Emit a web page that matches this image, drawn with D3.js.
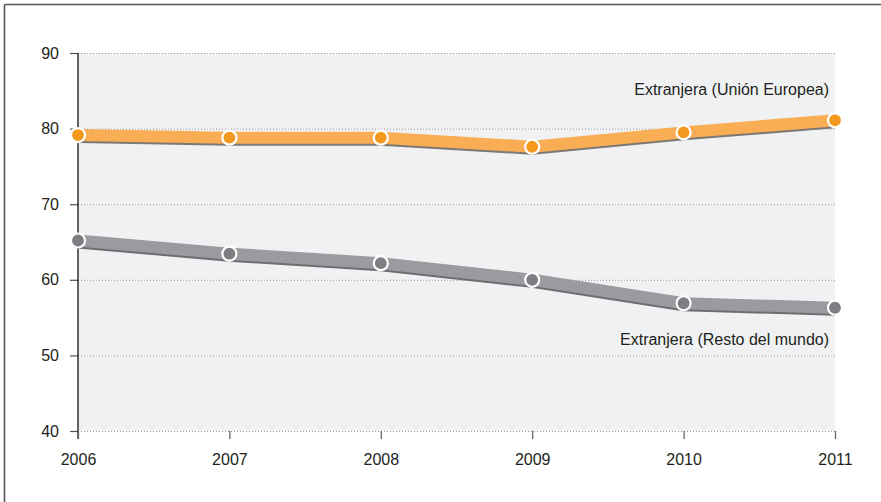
<!DOCTYPE html>
<html><head><meta charset="utf-8">
<script src="https://cdn.jsdelivr.net/npm/d3@7"></script>
<style>body{margin:0;background:#fff}svg{display:block}text{font-family:"Liberation Sans",Arial,sans-serif;fill:#231f20}</style>
</head><body><svg id="c" width="881" height="502"></svg>
<script>
const years = [2006, 2007, 2008, 2009, 2010, 2011];
const ueValues = [79.15, 78.8, 78.8, 77.6, 79.5, 81.1];
const restoValues = [65.2, 63.45, 62.2, 60.0, 56.9, 56.3];
const yTicks = [40, 50, 60, 70, 80, 90];
const seriesLabels = ["Extranjera (Unión Europea)", "Extranjera (Resto del mundo)"];

const svg = d3.select("#c");
const L = 78, R = 835, T = 53, B = 431;
const FS = 16;
const x = d3.scalePoint().domain(years).range([L, R]);
const y = d3.scaleLinear().domain([40, 90]).range([B, T]);

// frame
svg.append("line").attr("x1", 4.5).attr("x2", 881).attr("y1", 4.5).attr("y2", 4.5).attr("stroke", "#555").attr("stroke-width", 1.6);
svg.append("line").attr("x1", 4.5).attr("x2", 4.5).attr("y1", 4.5).attr("y2", 502).attr("stroke", "#555").attr("stroke-width", 1.6);

// plot bg
svg.append("rect").attr("x", L).attr("y", T).attr("width", R - L).attr("height", B - T).attr("fill", "#f0f1f3");

// grid
svg.append("g").selectAll("line").data(yTicks).join("line")
  .attr("x1", L).attr("x2", R).attr("y1", d => y(d) + 0.5).attr("y2", d => y(d) + 0.5)
  .attr("stroke", "#9a9a9a").attr("stroke-width", 1).attr("stroke-dasharray", "1,2");

// y axis
const ya = svg.append("g").attr("transform", `translate(${L},0)`)
  .call(d3.axisLeft(y).tickValues(yTicks).tickSize(8).tickPadding(11).tickFormat(d3.format("d")));
ya.select(".domain").remove();
ya.selectAll(".tick line").attr("stroke", "#555").attr("stroke-width", 1.2);
ya.selectAll("text").attr("font-size", FS).attr("fill", "#231f20").attr("font-family", "Liberation Sans, Arial, sans-serif");
svg.append("line").attr("x1", L).attr("x2", L).attr("y1", T).attr("y2", B + 8).attr("stroke", "#111").attr("stroke-width", 1.3);

// x axis
const xa = svg.append("g").attr("transform", `translate(0,${B})`)
  .call(d3.axisBottom(x).tickSize(8).tickPadding(15).tickFormat(d3.format("d")));
xa.select(".domain").remove();
xa.selectAll(".tick line").attr("stroke", "#666").attr("stroke-width", 1.3);
xa.selectAll("text").attr("font-size", FS).attr("fill", "#231f20").attr("font-family", "Liberation Sans, Arial, sans-serif");

function series(vals, band, shadow, dot) {
  const pts = years.map((yr, i) => [x(yr), y(vals[i])]);
  const line = d3.line().x(d => d[0]);
  svg.append("path").attr("d", line.y(d => d[1] + 2)(pts)).attr("fill", "none")
    .attr("stroke", shadow).attr("stroke-width", 12).attr("stroke-linejoin", "round");
  svg.append("path").attr("d", line.y(d => d[1])(pts)).attr("fill", "none")
    .attr("stroke", band).attr("stroke-width", 12).attr("stroke-linejoin", "round");
  svg.append("g").selectAll("circle").data(pts).join("circle")
    .attr("cx", d => d[0]).attr("cy", d => d[1]).attr("r", 7)
    .attr("fill", dot).attr("stroke", "#fff").attr("stroke-width", 2.2);
}
series(restoValues, "#9b9b9f", "#6e6e72", "#7d7e82");
series(ueValues, "#f9ae55", "#7d7873", "#f39a1e");

svg.append("text").attr("x", 829).attr("y", 95).attr("text-anchor", "end").attr("font-size", FS).text(seriesLabels[0]);
svg.append("text").attr("x", 829).attr("y", 345).attr("text-anchor", "end").attr("font-size", FS).text(seriesLabels[1]);
</script></body></html>
